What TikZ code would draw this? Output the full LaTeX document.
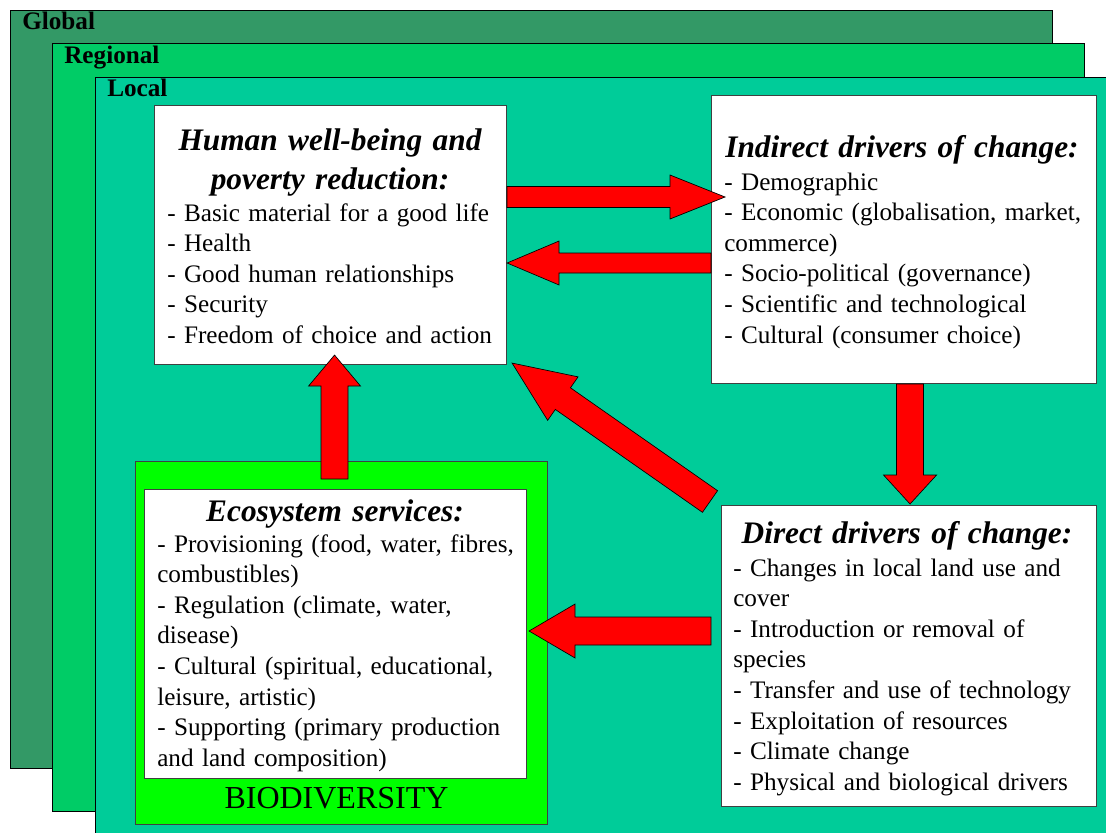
\documentclass[tikz,border=0pt]{standalone}
\usepackage{fontspec}
\setmainfont{Liberation Serif}
\usepackage{tikz}
\usetikzlibrary{calc}

\definecolor{globalgreen}{RGB}{51,153,102}
\definecolor{regionalgreen}{RGB}{0,204,102}
\definecolor{localgreen}{RGB}{0,204,153}
\definecolor{biogreen}{RGB}{0,255,0}

\newcommand{\boxtitle}{\fontsize{23.5}{29.25}\selectfont\bfseries\itshape}
\newcommand{\boxtext}{\fontsize{18.9}{22.95}\selectfont}

\tikzstyle{frame} = [draw=black, line width=0.75pt]
\tikzstyle{panel} = [rectangle, draw=black!75, line width=0.8pt, fill=white,
                     anchor=north west, inner sep=0pt]
\tikzstyle{heading} = [text width=300pt, align=center, anchor=base,
                       inner sep=0pt, font=\boxtitle]
\tikzstyle{items} = [text width=290pt, align=left, anchor=base west,
                     inner sep=0pt, font=\boxtext]
\tikzstyle{level} = [anchor=base west, inner sep=0pt, font=\boxtext\bfseries]
\tikzstyle{bigarrow} = [draw=black, line width=0.5pt, fill=red, line join=miter]

% block arrow: tail, tip, half shaft width, half head width, head length
\newcommand{\fatarrow}[5]{%
  \coordinate (fa) at ($(#2)!#5!(#1)$);
  \draw[bigarrow] ($(#1)!#3!90:(#2)$) -- ($(fa)!#3!90:(#2)$) -- ($(fa)!#4!90:(#2)$)
    -- (#2) -- ($(fa)!#4!-90:(#2)$) -- ($(fa)!#3!-90:(#2)$) -- ($(#1)!#3!-90:(#2)$) -- cycle;}

\begin{document}
\begin{tikzpicture}[x=0.75pt, y=-0.75pt]
\clip (0,0) rectangle (1106,832);

%Scales
\draw[frame, fill=globalgreen] (10,10) rectangle (1052,768);
\node[level] (global) at (22,29) {Global};
\draw[frame, fill=regionalgreen] (52,43) rectangle (1084,811);
\node[level] (regional) at (64,63) {Regional};
\draw[frame, fill=localgreen] (95,77) rectangle (1130,860);
\node[level] (local) at (107,96) {Local};

%Human well-being
\node[panel, minimum width=264pt, minimum height=194.25pt] at (154,105) (wellbeing){};
\node[heading] at (330,150) (wellbeingtitle){Human well-being and\\ poverty reduction:};
\node[items] at (167,221) (wellbeinglist){- Basic material for a good life\\ - Health\\
  - Good human relationships\\ - Security\\ - Freedom of choice and action};

%Indirect drivers
\node[panel, minimum width=288.75pt, minimum height=216pt] at (711,95) (indirect){};
\node[heading] at (902,157) (indirecttitle){Indirect drivers of change:};
\node[items] at (724,190) (indirectlist){- Demographic\\ - Economic (globalisation, market,\\
  commerce)\\ - Socio-political (governance)\\ - Scientific and technological\\
  - Cultural (consumer choice)};

%Direct drivers
\node[panel, minimum width=281.25pt, minimum height=225.75pt] at (721,505) (direct){};
\node[heading] at (907,543) (directtitle){Direct drivers of change:};
\node[items] at (733,576) (directlist){- Changes in local land use and\\ cover\\
  - Introduction or removal of\\ species\\ - Transfer and use of technology\\
  - Exploitation of resources\\ - Climate change\\ - Physical and biological drivers};

%Biodiversity and ecosystem services
\node[panel, fill=biogreen, minimum width=309pt, minimum height=272.25pt] at (135,461) (biodiv){};
\node[panel, minimum width=286.5pt, minimum height=216.75pt] at (144,489) (services){};
\node[heading] at (335,521) (servicestitle){Ecosystem services:};
\node[items] at (157,552) (serviceslist){- Provisioning (food, water, fibres,\\ combustibles)\\
  - Regulation (climate, water,\\ disease)\\ - Cultural (spiritual, educational,\\
  leisure, artistic)\\ - Supporting (primary production\\ and land composition)};
\node[anchor=base, inner sep=0pt, font=\fontsize{24}{28}\selectfont] at (336.5,808) (biolabel){BIODIVERSITY};

%Arrows
\fatarrow{wellbeing.east |- 0,197}{$(indirect.west |- 0,197)+(14,0)$}{7.9pt}{16.5pt}{41.25pt}
\fatarrow{indirect.west |- 0,263}{wellbeing.east |- 0,263}{7.5pt}{16.5pt}{39pt}
\fatarrow{$(services.north)+(-1,-10)$}{$(wellbeing.south)+(4,-10)$}{10.1pt}{19.5pt}{23.25pt}
\fatarrow{$(indirect.south)+(6,0)$}{$(direct.north)+(1,-1)$}{10.1pt}{19.9pt}{21.75pt}
\fatarrow{$(direct.west |- 0,631)+(-10,0)$}{$(services.east |- 0,631)+(2,0)$}{10.5pt}{20.25pt}{34.5pt}
\fatarrow{$(direct.north west)+(-11,-3.5)$}{$(wellbeing.south east)+(5,-2)$}{9.9pt}{19.9pt}{46.5pt}

\end{tikzpicture}
\end{document}
